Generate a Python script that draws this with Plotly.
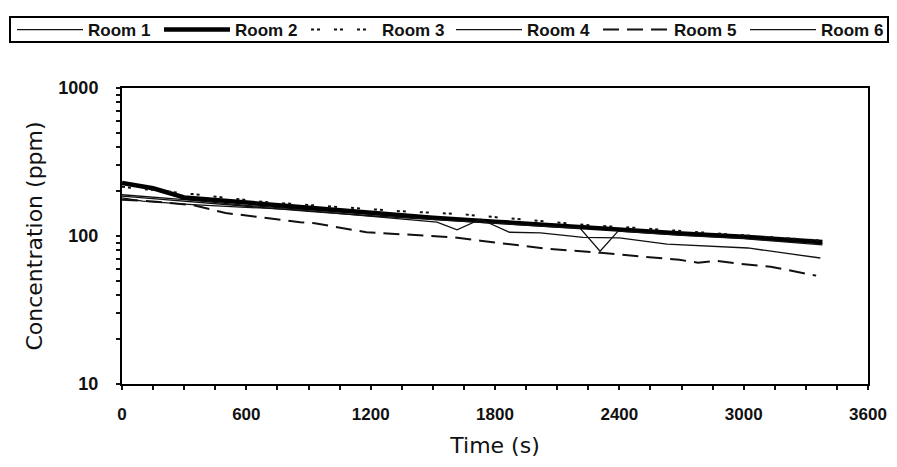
import plotly.graph_objects as go

# ---- data ----
t_room1 = [0, 300, 600, 900, 1200, 1500, 1800, 2100, 2400, 2700, 3000, 3380]
c_room1 = [190, 176, 161, 150, 139, 131, 123, 116, 109, 103, 97, 89]

t_room2 = [0, 150, 300, 600, 900, 1200, 1500, 1800, 2100, 2400, 2700, 3000, 3380]
c_room2 = [228, 210, 182, 168, 155, 142, 133, 125, 117, 110, 104, 99, 91]

t_room3 = [0, 150, 340, 680, 920, 1140, 1380, 1620, 1820, 2080, 2300, 2420, 2700, 3000, 3380]
c_room3 = [215, 205, 192, 170, 162, 155, 146, 141, 134, 124, 117, 115, 108, 101, 93]

t_room4 = [0, 300, 600, 900, 1200, 1500, 1800, 2100, 2210, 2307, 2394, 2700, 3000, 3380]
c_room4 = [186, 172, 158, 147, 137, 129, 121, 115, 113, 79, 108, 101, 96, 87]

t_room5 = [0, 150, 340, 500, 860, 930, 1180, 1390, 1600, 1730, 1820, 2050, 2310, 2600, 2690, 2780, 2870, 2980, 3130, 3350]
c_room5 = [176, 171, 162, 143, 124, 122, 106, 102, 98, 93, 90, 82, 77, 71, 69, 66, 68, 65, 62, 54]

t_room6 = [0, 100, 340, 850, 1520, 1617, 1730, 1870, 2020, 2225, 2400, 2630, 3020, 3370]
c_room6 = [181, 172, 163, 150, 124, 110, 130, 106, 105, 98, 97, 88, 83, 71]

series = [
    ("Room 1", t_room1, c_room1, dict(width=1.3, color="#111"), "legend"),
    ("Room 2", t_room2, c_room2, dict(width=4.5, color="#000"), "legend"),
    ("Room 3", t_room3, c_room3, dict(width=2, color="#111", dash="3px,3px,3px,14px"), "legend"),
    ("Room 4", t_room4, c_room4, dict(width=1.3, color="#111"), "legend2"),
    ("Room 5", t_room5, c_room5, dict(width=2, color="#111", dash="16px,8px"), "legend2"),
    ("Room 6", t_room6, c_room6, dict(width=1.3, color="#111"), "legend2"),
]

x_tickvals = list(range(0, 3601, 150))
x_ticktext = [str(v) if v % 600 == 0 else "" for v in x_tickvals]
y_tickvals = [m * 10 ** e for e in (1, 2) for m in range(1, 10)] + [1000]
y_ticktext = [str(v) if v in (10, 100, 1000) else "" for v in y_tickvals]

fig = go.Figure()
for name, t, c, ln, lg in series:
    fig.add_trace(go.Scatter(x=t, y=c, mode="lines", name=name, line=ln, legend=lg))

xfont = dict(family="Liberation Sans, Arial, sans-serif", size=17, color="#111", weight="bold")
yfont = dict(family="Liberation Sans, Arial, sans-serif", size=18, color="#111", weight="bold")
title_family = "DejaVu Sans, sans-serif"

# the page body has an 8px margin; size the figure so it fits the 897x467 window
W, H = 889, 459
ML, MR, MT, MB = 114, 29, 80, 83
pw, ph = W - ML - MR, H - MT - MB


def px_to_paper_x(px):
    return (px - ML) / pw


def px_to_paper_y(py):
    return 1 + (MT - py) / ph


legend_common = dict(
    orientation="h", xanchor="left", yanchor="top",
    y=px_to_paper_y(4),
    borderwidth=0, bgcolor="rgba(0,0,0,0)",
    font=dict(family="Liberation Sans, Arial, sans-serif", size=17, color="#111", weight="bold"),
    entrywidth=66, entrywidthmode="pixels",
    itemwidth=66,
)

fig.update_layout(
    width=W, height=H,
    margin=dict(l=ML, r=MR, t=MT, b=MB, autoexpand=False),
    paper_bgcolor="white", plot_bgcolor="white",
    showlegend=True,
    legend=dict(x=px_to_paper_x(4), **legend_common),
    legend2=dict(x=px_to_paper_x(443), **legend_common),
    shapes=[dict(
        type="rect", xref="paper", yref="paper",
        x0=px_to_paper_x(2), x1=px_to_paper_x(880),
        y0=px_to_paper_y(34), y1=px_to_paper_y(9),
        line=dict(color="#000", width=2), fillcolor="rgba(0,0,0,0)",
    )],
    xaxis=dict(
        range=[0, 3600], tickvals=x_tickvals, ticktext=x_ticktext,
        ticks="outside", ticklen=4, tickwidth=1.5, tickcolor="#111",
        showline=True, linewidth=2, linecolor="#000", mirror=True,
        showgrid=False, zeroline=False, tickfont=xfont,
        ticklabelstandoff=10, automargin=False,
        title=dict(text="Time (s)", font=dict(family=title_family, size=22, color="#111"), standoff=14),
    ),
    yaxis=dict(
        type="log", range=[1, 3], tickvals=y_tickvals, ticktext=y_ticktext,
        ticks="outside", ticklen=4, tickwidth=1.5, tickcolor="#111",
        showline=True, linewidth=2, linecolor="#000", mirror=True,
        showgrid=False, zeroline=False, tickfont=yfont,
        ticklabelstandoff=14, automargin=False,
        title=dict(text="Concentration (ppm)", font=dict(family=title_family, size=22, color="#111"), standoff=10),
    ),
)

fig.write_html("out.html")
